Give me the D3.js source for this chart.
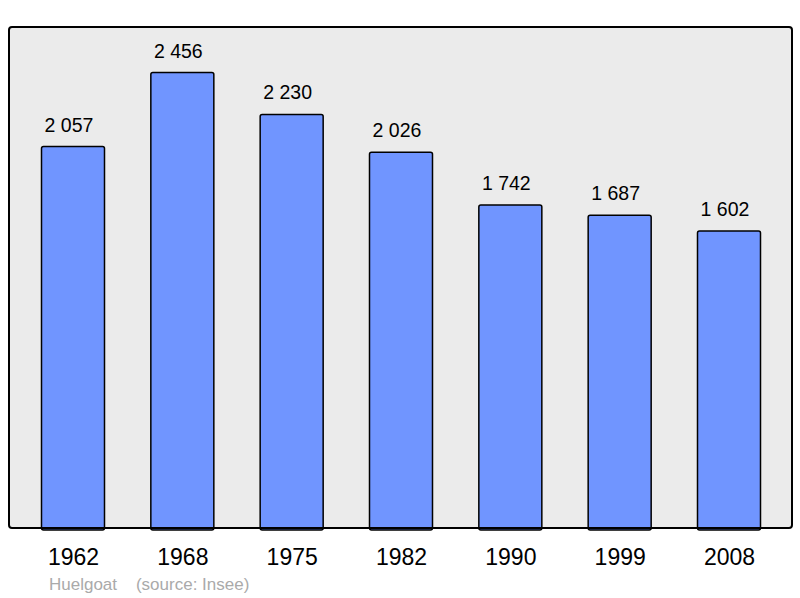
<!DOCTYPE html>
<html><head><meta charset="utf-8">
<script src="https://cdn.jsdelivr.net/npm/d3@7"></script>
<style>body{margin:0;background:#fff}svg{display:block}text{font-family:"Liberation Sans",Arial,sans-serif}</style>
</head><body>
<script>
const years = ["1962","1968","1975","1982","1990","1999","2008"];
const population = [2057,2456,2230,2026,1742,1687,1602];
const valueLabels = ["2 057","2 456","2 230","2 026","1 742","1 687","1 602"];
const footer = "Huelgoat    (source: Insee)";

const W=800,H=598;
const svg=d3.select("body").append("svg").attr("width",W).attr("height",H);
const panel={x:9,y:27,w:783,h:501};
svg.append("rect").attr("x",panel.x).attr("y",panel.y).attr("width",panel.w).attr("height",panel.h)
  .attr("rx",3).attr("fill","#ebebeb").attr("stroke","none");
const x=d3.scalePoint().domain(years).range([73,729]);
const y=d3.scaleLinear().domain([0,d3.max(population)*1.1]).range([panel.y+panel.h,panel.y]);
const bw=63;
const g=svg.append("g");
g.selectAll("rect").data(years).join("rect")
  .attr("x",d=>x(d)-bw/2).attr("y",(d,i)=>y(population[i]))
  .attr("width",bw).attr("height",(d,i)=>y(0)-y(population[i])+2)
  .attr("rx",2).attr("fill","#7095ff").attr("stroke","#000").attr("stroke-width",1.5);
g.selectAll("text.v").data(years).join("text").attr("class","v")
  .attr("x",d=>x(d)-4).attr("y",(d,i)=>y(population[i])-15)
  .attr("text-anchor","middle").attr("font-size",19.5).attr("fill","#000")
  .text((d,i)=>valueLabels[i]);
svg.append("rect").attr("x",panel.x).attr("y",panel.y).attr("width",panel.w).attr("height",panel.h)
  .attr("rx",3).attr("fill","none").attr("stroke","#000").attr("stroke-width",2);
const xa=svg.append("g").attr("transform",`translate(0,${panel.y+panel.h})`)
  .call(d3.axisBottom(x).tickSize(0).tickPadding(0));
xa.select(".domain").remove();
xa.selectAll("text").attr("dy",null).attr("y",37).attr("font-size",23).attr("fill","#000")
  .attr("font-family","Liberation Sans, Arial, sans-serif");
svg.append("text").attr("x",49).attr("y",590).attr("font-size",17).attr("fill","#aaa")
  .attr("xml:space","preserve").style("white-space","pre").text(footer);
</script>
</body></html>
